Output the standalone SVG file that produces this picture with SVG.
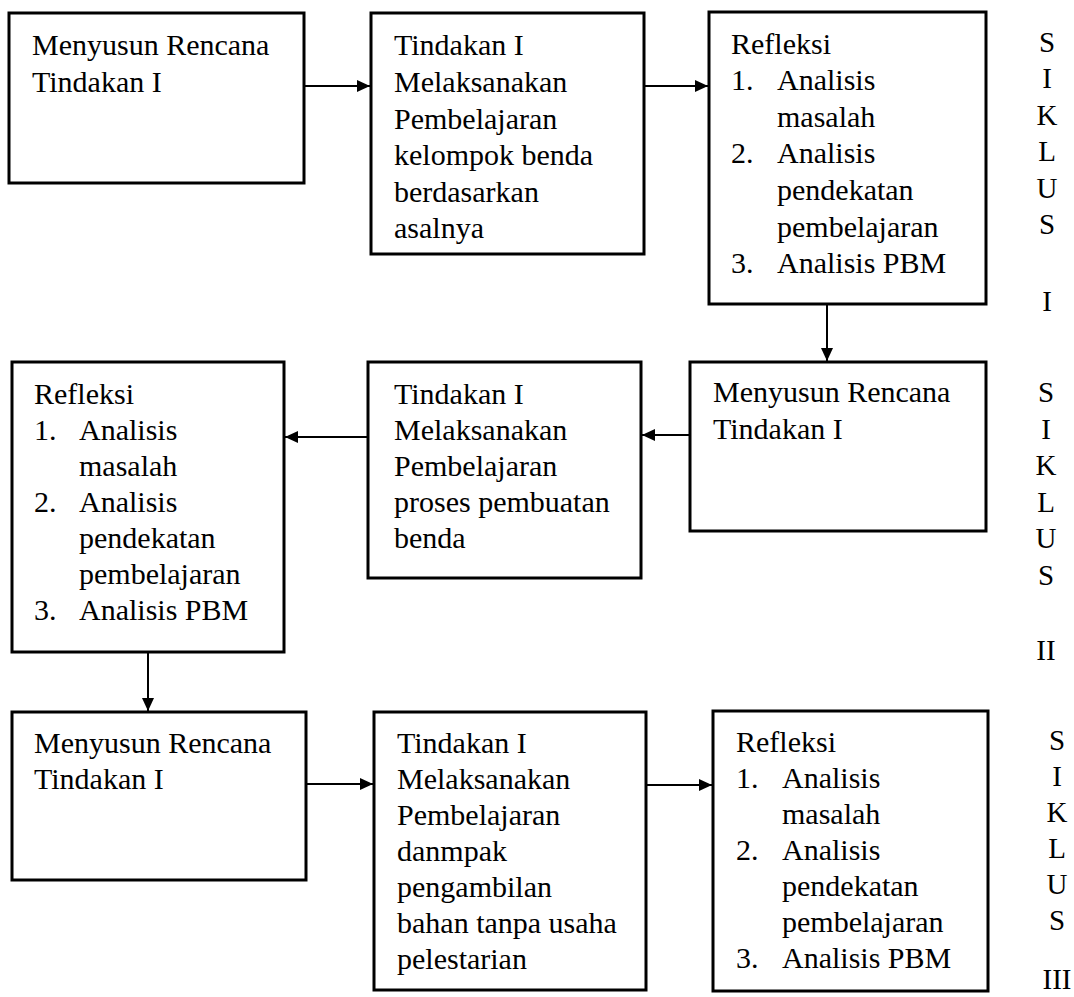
<svg xmlns="http://www.w3.org/2000/svg" width="1074" height="997" viewBox="0 0 1074 997" font-family="Liberation Serif, DejaVu Serif, serif">
<style>
.box{fill:#fff;stroke:#000;stroke-width:3}
.t{font-size:30px;fill:#000}
.s{font-size:29px;fill:#000;text-anchor:middle}
.c{stroke:#000;stroke-width:2;fill:none;marker-end:url(#ah)}
</style>
<defs>
<marker id="ah" markerUnits="userSpaceOnUse" markerWidth="13" markerHeight="12" refX="13" refY="6" orient="auto">
<path d="M0,0 L13,6 L0,12 z" fill="#000"/>
</marker>
</defs>
<rect width="1074" height="997" fill="#fff"/>

<g id="connectors">
<line class="c" x1="304" y1="86" x2="370" y2="86"/>
<line class="c" x1="644" y1="86" x2="708" y2="86"/>
<line class="c" x1="827" y1="304" x2="827" y2="361"/>
<line class="c" x1="690" y1="435" x2="642" y2="435"/>
<line class="c" x1="368" y1="437" x2="285" y2="437"/>
<line class="c" x1="148" y1="652" x2="148" y2="711"/>
<line class="c" x1="306" y1="784" x2="373" y2="784"/>
<line class="c" x1="646" y1="785" x2="712" y2="785"/>
</g>

<g id="n1" font-family="Liberation Serif, serif">
<rect class="box" x="9" y="13" width="295" height="170"/>
<text class="t" x="32" y="55">Menyusun Rencana</text>
<text class="t" x="32" y="92">Tindakan I</text>
</g>

<g id="n2" font-family="Liberation Serif, serif">
<rect class="box" x="371" y="13" width="273" height="241"/>
<text class="t" x="394" y="55">Tindakan I</text>
<text class="t" x="394" y="92">Melaksanakan</text>
<text class="t" x="394" y="129">Pembelajaran</text>
<text class="t" x="394" y="165">kelompok benda</text>
<text class="t" x="394" y="202">berdasarkan</text>
<text class="t" x="394" y="238">asalnya</text>
</g>

<g id="n3" font-family="Liberation Serif, serif">
<rect class="box" x="709" y="12" width="277" height="292"/>
<text class="t" x="731" y="54">Refleksi</text>
<text class="t" x="731" y="90">1.</text>
<text class="t" x="777" y="90">Analisis</text>
<text class="t" x="777" y="127">masalah</text>
<text class="t" x="731" y="163">2.</text>
<text class="t" x="777" y="163">Analisis</text>
<text class="t" x="777" y="200">pendekatan</text>
<text class="t" x="777" y="237">pembelajaran</text>
<text class="t" x="731" y="273">3.</text>
<text class="t" x="777" y="273">Analisis PBM</text>
</g>

<g id="siklus1" font-family="Liberation Serif, serif">
<text class="s" x="1047" y="52">S</text>
<text class="s" x="1047" y="88">I</text>
<text class="s" x="1047" y="125">K</text>
<text class="s" x="1047" y="161">L</text>
<text class="s" x="1047" y="198">U</text>
<text class="s" x="1047" y="234">S</text>
<text class="s" x="1047" y="311">I</text>
</g>

<g id="n4" font-family="Liberation Serif, serif">
<rect class="box" x="690" y="362" width="296" height="169"/>
<text class="t" x="713" y="402">Menyusun Rencana</text>
<text class="t" x="713" y="439">Tindakan I</text>
</g>

<g id="n5" font-family="Liberation Serif, serif">
<rect class="box" x="368" y="362" width="273" height="216"/>
<text class="t" x="394" y="404">Tindakan I</text>
<text class="t" x="394" y="440">Melaksanakan</text>
<text class="t" x="394" y="476">Pembelajaran</text>
<text class="t" x="394" y="512">proses pembuatan</text>
<text class="t" x="394" y="548">benda</text>
</g>

<g id="n6" font-family="Liberation Serif, serif">
<rect class="box" x="12" y="362" width="272" height="290"/>
<text class="t" x="34" y="404">Refleksi</text>
<text class="t" x="34" y="440">1.</text>
<text class="t" x="79" y="440">Analisis</text>
<text class="t" x="79" y="476">masalah</text>
<text class="t" x="34" y="512">2.</text>
<text class="t" x="79" y="512">Analisis</text>
<text class="t" x="79" y="548">pendekatan</text>
<text class="t" x="79" y="584">pembelajaran</text>
<text class="t" x="34" y="620">3.</text>
<text class="t" x="79" y="620">Analisis PBM</text>
</g>

<g id="siklus2" font-family="Liberation Serif, serif">
<text class="s" x="1046" y="402">S</text>
<text class="s" x="1046" y="439">I</text>
<text class="s" x="1046" y="475">K</text>
<text class="s" x="1046" y="512">L</text>
<text class="s" x="1046" y="548">U</text>
<text class="s" x="1046" y="585">S</text>
<text class="s" x="1046" y="660">II</text>
</g>

<g id="n7" font-family="Liberation Serif, serif">
<rect class="box" x="12" y="712" width="294" height="168"/>
<text class="t" x="34" y="753">Menyusun Rencana</text>
<text class="t" x="34" y="789">Tindakan I</text>
</g>

<g id="n8" font-family="Liberation Serif, serif">
<rect class="box" x="374" y="712" width="272" height="278"/>
<text class="t" x="397" y="753">Tindakan I</text>
<text class="t" x="397" y="789">Melaksanakan</text>
<text class="t" x="397" y="825">Pembelajaran</text>
<text class="t" x="397" y="861">danmpak</text>
<text class="t" x="397" y="897">pengambilan</text>
<text class="t" x="397" y="933">bahan tanpa usaha</text>
<text class="t" x="397" y="969">pelestarian</text>
</g>

<g id="n9" font-family="Liberation Serif, serif">
<rect class="box" x="713" y="711" width="275" height="280"/>
<text class="t" x="736" y="752">Refleksi</text>
<text class="t" x="736" y="788">1.</text>
<text class="t" x="782" y="788">Analisis</text>
<text class="t" x="782" y="824">masalah</text>
<text class="t" x="736" y="860">2.</text>
<text class="t" x="782" y="860">Analisis</text>
<text class="t" x="782" y="896">pendekatan</text>
<text class="t" x="782" y="932">pembelajaran</text>
<text class="t" x="736" y="968">3.</text>
<text class="t" x="782" y="968">Analisis PBM</text>
</g>

<g id="siklus3" font-family="Liberation Serif, serif">
<text class="s" x="1057" y="750">S</text>
<text class="s" x="1057" y="786">I</text>
<text class="s" x="1057" y="822">K</text>
<text class="s" x="1057" y="858">L</text>
<text class="s" x="1057" y="894">U</text>
<text class="s" x="1057" y="930">S</text>
<text class="s" x="1057" y="989">III</text>
</g>
</svg>
